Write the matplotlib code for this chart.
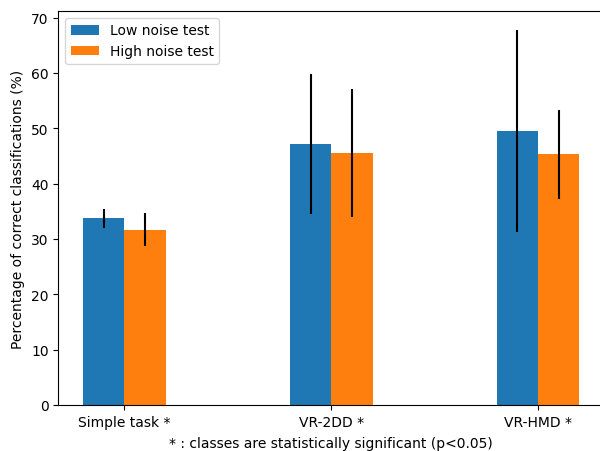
import numpy as np
from matplotlib import pyplot as plt

# Data
tasks = ['Simple task *', 'VR-2DD *', 'VR-HMD *']
low_noise = [33.7, 47.2, 49.5]
low_noise_err = [1.8, 12.6, 18.3]
high_noise = [31.7, 45.5, 45.3]
high_noise_err = [3.0, 11.6, 8.0]

x = np.arange(len(tasks))
width = 0.2

fig = plt.figure(figsize=(6.0, 4.52), dpi=100)
ax = fig.add_axes([58.3 / 600, 46 / 452, 546 / 600, 394 / 452])

ax.bar(x - width / 2, low_noise, width, yerr=low_noise_err,
       label='Low noise test', error_kw=dict(ecolor='black', lw=1.5))
ax.bar(x + width / 2, high_noise, width, yerr=high_noise_err,
       label='High noise test', error_kw=dict(ecolor='black', lw=1.5))

# the original image is cut just before the right spine
ax.spines['right'].set_visible(False)

ax.set_xticks(x)
ax.set_xticklabels(tasks)
ax.set_xlabel('* : classes are statistically significant (p<0.05)', labelpad=5)
ax.set_ylabel('Percentage of correct classifications (%)')
ax.legend(loc='upper left')

fig.savefig('out.png', dpi=100)
